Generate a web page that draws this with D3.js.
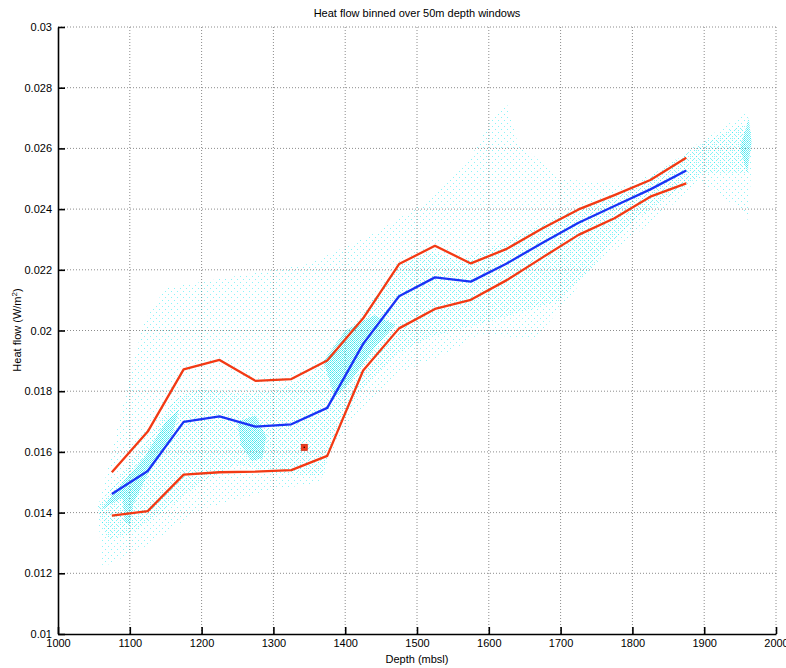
<!DOCTYPE html>
<html><head><meta charset="utf-8">
<script src="https://cdn.jsdelivr.net/npm/d3@7"></script>
<style>
html,body{margin:0;padding:0;background:#fff;}
text{font-family:"Liberation Sans",Arial,Helvetica,sans-serif;fill:#000;}
</style></head>
<body>
<svg id="chart" width="786" height="668"></svg>
<script>
// ---- data ----
const binDepth = [1075,1125,1175,1225,1275,1325,1375,1425,1475,1525,1575,1625,1675,1725,1775,1825,1875];
const meanHF  = [0.01461,0.01537,0.01699,0.01717,0.01683,0.01691,0.01745,0.01956,0.02113,0.02175,0.02161,0.02221,0.02289,0.02355,0.02410,0.02465,0.02527];
const upperHF = [0.01533,0.01667,0.01872,0.01903,0.01834,0.01840,0.01901,0.02040,0.02219,0.02279,0.02221,0.02269,0.02337,0.02399,0.02446,0.02496,0.02569];
const lowerHF = [0.01390,0.01405,0.01525,0.01533,0.01535,0.01540,0.01587,0.01868,0.02007,0.02071,0.02101,0.02166,0.02241,0.02315,0.02370,0.02441,0.02485];
const outlierDepth = [1343];
const outlierHF = [0.01615];
const xTicks = [1000,1100,1200,1300,1400,1500,1600,1700,1800,1900,2000];
const yTicks = [0.01,0.012,0.014,0.016,0.018,0.02,0.022,0.024,0.026,0.028,0.03];
const yTickLabels = ["0.01","0.012","0.014","0.016","0.018","0.02","0.022","0.024","0.026","0.028","0.03"];
// raw-sample cloud, outlined as regions of sparse / medium / dense sampling (depth, heat flow)
const cloudSparse = [[1062,0.0122],[1055,0.0141],[1075,0.0160],[1100,0.0185],[1120,0.0203],[1150,0.0214],[1250,0.0218],[1350,0.0222],[1440,0.0232],[1510,0.0242],[1570,0.0255],[1605,0.0270],[1625,0.0275],[1640,0.0262],[1700,0.0250],[1790,0.0248],[1840,0.0253],[1900,0.0263],[1940,0.0269],[1961,0.0272],[1967,0.0262],[1962,0.0236],[1950,0.0240],[1895,0.0249],[1806,0.0232],[1745,0.0221],[1700,0.0207],[1662,0.0197],[1588,0.0199],[1546,0.0193],[1476,0.0186],[1425,0.0175],[1374,0.0158],[1365,0.0150],[1291,0.0147],[1198,0.0141],[1123,0.0129]];
const cloudMedium = [[1055,0.0142],[1090,0.0153],[1130,0.0166],[1165,0.0178],[1200,0.0181],[1250,0.0179],[1300,0.0180],[1350,0.0185],[1400,0.0197],[1440,0.0211],[1480,0.0222],[1520,0.0226],[1560,0.0223],[1620,0.0229],[1700,0.0238],[1800,0.0247],[1900,0.0262],[1955,0.0268],[1962,0.0252],[1900,0.0252],[1800,0.0236],[1700,0.0210],[1600,0.0203],[1520,0.0198],[1470,0.0192],[1420,0.0180],[1380,0.0163],[1370,0.0152],[1300,0.0153],[1250,0.0156],[1200,0.0150],[1150,0.0141],[1100,0.0133],[1070,0.0131],[1060,0.0137]];
const cloudDense1 = [[1060,0.0141],[1090,0.0150],[1120,0.0158],[1150,0.0170],[1168,0.0174],[1160,0.0166],[1130,0.0155],[1105,0.0143],[1100,0.0136],[1093,0.0137],[1090,0.0145],[1075,0.0143]];
const cloudDense2 = [[1250,0.0170],[1275,0.0172],[1290,0.0165],[1285,0.0158],[1270,0.0157],[1255,0.0162]];
const cloudDense3 = [[1370,0.0190],[1400,0.0200],[1440,0.0205],[1470,0.0202],[1440,0.0194],[1410,0.0184],[1385,0.0178]];
const cloudDense4 = [[1950,0.0260],[1962,0.0270],[1966,0.0262],[1960,0.0252]];

// ---- layout ----
const svg = d3.select("#chart");
const m = {left:58, right:776, top:27, bottom:634};
const x = d3.scaleLinear().domain([1000,2000]).range([m.left,m.right]);
const y = d3.scaleLinear().domain([0.01,0.03]).range([m.bottom,m.top]);

// patterns for cloud texture
const defs = svg.append("defs");
function dotPattern(id, step, color, op){
  const p = defs.append("pattern").attr("id",id).attr("patternUnits","userSpaceOnUse")
    .attr("width",step).attr("height",step);
  p.append("rect").attr("x",0).attr("y",0).attr("width",1).attr("height",1).attr("fill",color).attr("opacity",op);
  p.append("rect").attr("x",Math.floor(step/2)).attr("y",Math.floor(step/2)).attr("width",1).attr("height",1).attr("fill",color).attr("opacity",op);
}
dotPattern("pSparse",6,"#00e8f0",0.45);
dotPattern("pMedium",4,"#00e8f0",0.5);
dotPattern("pDense",2,"#00e0ea",0.55);

// grid
const grid = svg.append("g");
grid.selectAll("line.vx").data(xTicks.slice(1)).enter().append("line")
  .attr("x1",d=>x(d)).attr("x2",d=>x(d)).attr("y1",m.top).attr("y2",m.bottom)
  .attr("stroke","#8c8c8c").attr("stroke-width",1).attr("stroke-dasharray","1,2");
grid.selectAll("line.hy").data(yTicks.slice(1)).enter().append("line")
  .attr("x1",m.left).attr("x2",m.right).attr("y1",d=>y(d)).attr("y2",d=>y(d))
  .attr("stroke","#8c8c8c").attr("stroke-width",1).attr("stroke-dasharray","1,2");

// cloud
const area = d3.line().x(d=>x(d[0])).y(d=>y(d[1])).curve(d3.curveLinearClosed);
const cg = svg.append("g");
cg.append("path").attr("d",area(cloudSparse)).attr("fill","url(#pSparse)");
cg.append("path").attr("d",area(cloudMedium)).attr("fill","url(#pMedium)");
[cloudDense1,cloudDense2,cloudDense3,cloudDense4].forEach(c=>{
  cg.append("path").attr("d",area(c)).attr("fill","url(#pDense)");
});

// lines
const line = d3.line().x(d=>x(d[0])).y(d=>y(d[1]));
const zip = a => binDepth.map((d,i)=>[d,a[i]]);
svg.append("path").attr("d",line(zip(upperHF))).attr("fill","none").attr("stroke","#f23a14").attr("stroke-width",2.3).attr("stroke-linejoin","round");
svg.append("path").attr("d",line(zip(lowerHF))).attr("fill","none").attr("stroke","#f23a14").attr("stroke-width",2.3).attr("stroke-linejoin","round");
svg.append("path").attr("d",line(zip(meanHF))).attr("fill","none").attr("stroke","#1a34f5").attr("stroke-width",2.3).attr("stroke-linejoin","round");

// outlier marker
outlierDepth.forEach((d,i)=>{
  svg.append("rect").attr("x",x(d)-3).attr("y",y(outlierHF[i])-3).attr("width",6).attr("height",6)
    .attr("fill","#f03c1e").attr("stroke","#d02810").attr("stroke-width",0.8);
  svg.append("rect").attr("x",x(d)-0.7).attr("y",y(outlierHF[i])-0.7).attr("width",1.4).attr("height",1.4).attr("fill","#300");
});

// axes
const xAxis = d3.axisBottom(x).tickValues(xTicks).tickSizeInner(-7).tickSizeOuter(0).tickFormat(d3.format("d")).tickPadding(5);
const yAxis = d3.axisLeft(y).tickValues(yTicks).tickSizeInner(-7).tickSizeOuter(0).tickFormat((d,i)=>yTickLabels[i]).tickPadding(6);
const gx = svg.append("g").attr("transform",`translate(0,${m.bottom})`).call(xAxis);
const gy = svg.append("g").attr("transform",`translate(${m.left},0)`).call(yAxis);
[gx,gy].forEach(g=>{
  g.select(".domain").attr("stroke","#000").attr("stroke-width",1.6);
  g.selectAll(".tick line").attr("stroke","#000").attr("stroke-width",1.6);
  g.selectAll(".tick text").attr("font-size",11).attr("font-family","Liberation Sans, Arial, sans-serif").attr("fill","#000");
});

// titles
svg.append("text").attr("x",417).attr("y",17).attr("text-anchor","middle").attr("font-size",11)
  .text("Heat flow binned over 50m depth windows");
svg.append("text").attr("x",417).attr("y",663).attr("text-anchor","middle").attr("font-size",11)
  .text("Depth (mbsl)");
const yl = svg.append("text").attr("transform","translate(21,330) rotate(-90)").attr("text-anchor","middle").attr("font-size",11);
yl.append("tspan").text("Heat flow (W/m");
yl.append("tspan").attr("font-size",8).attr("dy",-4).text("2");
yl.append("tspan").attr("dy",4).text(")");
</script>
</body></html>
